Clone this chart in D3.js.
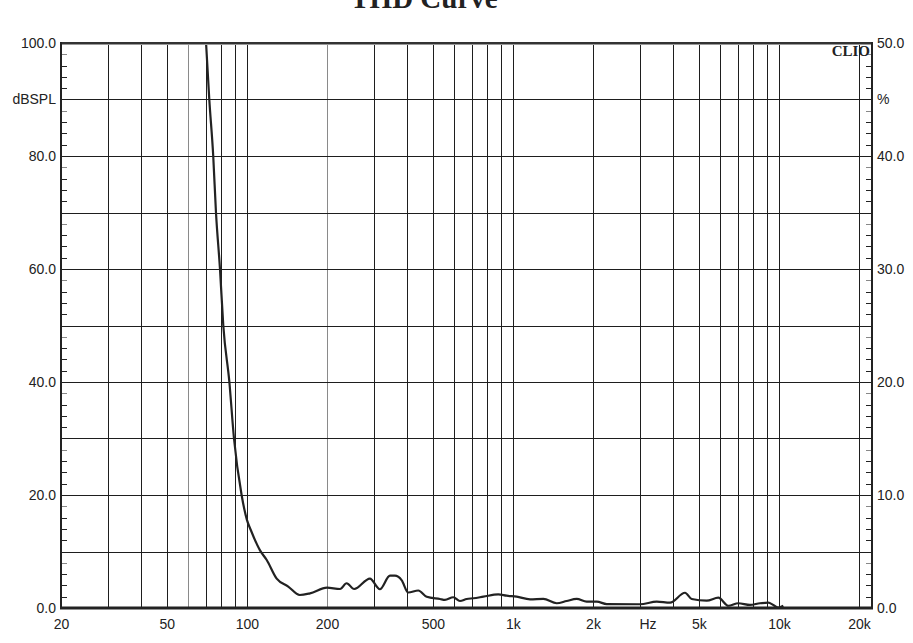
<!DOCTYPE html>
<html>
<head>
<meta charset="utf-8">
<script src="https://cdn.jsdelivr.net/npm/d3@7/dist/d3.min.js"></script>
<style>
html,body{margin:0;padding:0;background:#fff;}
svg{display:block;}
</style>
</head>
<body>
<svg id="chart" width="913" height="643"></svg>
<script>
// ---- data ----
const freqHz = [70.2,72.2,74.7,76.5,79.2,81.5,85.9,89.4,95.5,100,103.4,112,118.7,129.4,143,158,172.6,200,224,237,253,290,316,345,360,382,404,441,474,532,555,597,632,670,710,774,881,947,1033,1160,1301,1461,1592,1737,1894,2066,2252,3004,3472,3896,4436,4700,5353,5918,6453,7036,7784,8489,9122,9526,9948,10388];
const thdPct = [50,45,40,35,30,25,20,15,10,7.8,6.9,5.1,4.25,2.6,1.9,1.15,1.3,1.8,1.68,2.19,1.68,2.6,1.66,2.86,2.86,2.45,1.37,1.55,1.0,0.8,0.72,0.95,0.62,0.8,0.86,1.0,1.21,1.09,1.0,0.77,0.8,0.42,0.62,0.8,0.56,0.56,0.35,0.33,0.56,0.47,1.35,0.8,0.65,0.91,0.2,0.42,0.27,0.42,0.47,0.27,0.03,0.2];
const xTickValues = [20,50,100,200,500,1000,2000,5000,10000,20000];
const xTickLabels = ["20","50","100","200","500","1k","2k","5k","10k","20k"];
const xGridValues = [30,40,50,60,70,80,90,100,200,300,400,500,600,700,800,900,1000,2000,3000,4000,5000,6000,7000,8000,9000,10000,20000];
const xGridGray = [60,200];
const leftTicks = [0,20,40,60,80,100];
const rightTicks = [0,10,20,30,40,50];
const yGridValues = [10,20,30,40,50,60,70,80,90];
const title = "THD Curve";
const leftUnit = "dBSPL";
const rightUnit = "%";
const xUnit = "Hz";

// ---- layout ----
const svg = d3.select("#chart");
const X0 = 61, X1 = 872, Y0 = 43, Y1 = 608;
const x = d3.scaleLog().domain([20, 20000]).range([X0, 859]);
const yL = d3.scaleLinear().domain([0, 100]).range([Y1, Y0]);
const yR = d3.scaleLinear().domain([0, 50]).range([Y1, Y0]);

svg.append("rect").attr("width",913).attr("height",643).attr("fill","#fff");

// vertical grid
svg.append("g").selectAll("line").data(xGridValues).join("line")
  .attr("x1", d => Math.round(x(d)) + 0.5).attr("x2", d => Math.round(x(d)) + 0.5)
  .attr("y1", Y0).attr("y2", Y1)
  .attr("stroke", d => xGridGray.includes(d) ? "#8a8a8a" : "#1e1e1e")
  .attr("stroke-width", 1);

// horizontal grid
svg.append("g").selectAll("line").data(yGridValues).join("line")
  .attr("x1", X0).attr("x2", X1)
  .attr("y1", d => Math.round(yL(d)) + 0.5).attr("y2", d => Math.round(yL(d)) + 0.5)
  .attr("stroke", "#1e1e1e").attr("stroke-width", 1);

// minor ticks on left and right axes (every 2 dB)
const minor = d3.range(2, 100, 2).filter(v => v % 10 !== 0);
svg.append("g").selectAll("line").data(minor).join("line")
  .attr("x1", X0).attr("x2", X0 + 6)
  .attr("y1", d => Math.round(yL(d)) + 0.5).attr("y2", d => Math.round(yL(d)) + 0.5)
  .attr("stroke", d => (d % 10 === 8) ? "#888" : "#222");
svg.append("g").selectAll("line").data(minor).join("line")
  .attr("x1", X1 - 6).attr("x2", X1)
  .attr("y1", d => Math.round(yL(d)) + 0.5).attr("y2", d => Math.round(yL(d)) + 0.5)
  .attr("stroke", d => (d % 10 === 8) ? "#888" : "#222");

// curve
const clip = svg.append("clipPath").attr("id","plotclip").append("rect")
  .attr("x", X0).attr("y", Y0).attr("width", X1 - X0).attr("height", Y1 - Y0);
const pts = freqHz.map((f, i) => [f, thdPct[i]]);
svg.append("path").datum(pts)
  .attr("clip-path","url(#plotclip)")
  .attr("fill","none").attr("stroke","#222").attr("stroke-width",2.2)
  .attr("stroke-linejoin","round")
  .attr("d", d3.line().x(d => x(d[0])).y(d => yR(d[1])).curve(d3.curveMonotoneX));

// frame
svg.append("line").attr("x1",X0).attr("x2",X1).attr("y1",Y0+1.5).attr("y2",Y0+1.5).attr("stroke","#999").attr("stroke-width",1);
svg.append("line").attr("x1",X0).attr("x2",X1).attr("y1",Y0).attr("y2",Y0).attr("stroke","#333").attr("stroke-width",2);
svg.append("line").attr("x1",X0).attr("x2",X0).attr("y1",Y0-1).attr("y2",Y1).attr("stroke","#222").attr("stroke-width",2);
svg.append("line").attr("x1",X1).attr("x2",X1).attr("y1",Y0-1).attr("y2",Y1).attr("stroke","#222").attr("stroke-width",2);
svg.append("line").attr("x1",X0-1).attr("x2",X1+1).attr("y1",Y1).attr("y2",Y1).attr("stroke","#222").attr("stroke-width",3);

// axes labels via d3 axes
const fontFam = "'Liberation Sans', Arial, sans-serif";
const gl = svg.append("g").attr("transform",`translate(${X0 - 5},0)`)
  .call(d3.axisLeft(yL).tickValues(leftTicks).tickSize(0).tickPadding(0).tickFormat(d3.format(".1f")));
const gr = svg.append("g").attr("transform",`translate(${X1 + 5},0)`)
  .call(d3.axisRight(yR).tickValues(rightTicks).tickSize(0).tickPadding(0).tickFormat(d3.format(".1f")));
const gb = svg.append("g").attr("transform",`translate(0,${Y1 + 11})`)
  .call(d3.axisBottom(x).tickValues(xTickValues).tickSize(0).tickPadding(0)
    .tickFormat((d, i) => xTickLabels[i]));
[gl, gr, gb].forEach(g => {
  g.select(".domain").remove();
  g.selectAll("text").attr("fill","#222").style("font-family", fontFam).style("font-size","14px");
});
gl.selectAll("text").attr("dy","0.32em");
gr.selectAll("text").attr("dy","0.32em");

// unit labels
svg.append("text").attr("x", X0 - 5).attr("y", yL(90)).attr("dy","0.32em")
  .attr("text-anchor","end").attr("fill","#222")
  .style("font-family", fontFam).style("font-size","14px").text(leftUnit);
svg.append("text").attr("x", X1 + 5).attr("y", yL(90)).attr("dy","0.32em")
  .attr("text-anchor","start").attr("fill","#222")
  .style("font-family", fontFam).style("font-size","14px").text(rightUnit);
svg.append("text").attr("x", 648).attr("y", Y1 + 11).attr("dy","0.71em")
  .attr("text-anchor","middle").attr("fill","#222")
  .style("font-family", fontFam).style("font-size","14px").text(xUnit);

// title
svg.append("text").attr("x", 424).attr("y", 8).attr("text-anchor","middle")
  .attr("fill","#222").style("font-family","'Liberation Serif', 'Times New Roman', serif")
  .style("font-weight","bold").style("font-size","29px").text(title);

// CLIO mark
svg.append("text").attr("x", 870).attr("y", 56).attr("text-anchor","end")
  .attr("fill","#222").style("font-family","'Liberation Serif', 'Times New Roman', serif")
  .style("font-weight","bold").style("font-size","15px").text("CLIO");
</script>
</body>
</html>
